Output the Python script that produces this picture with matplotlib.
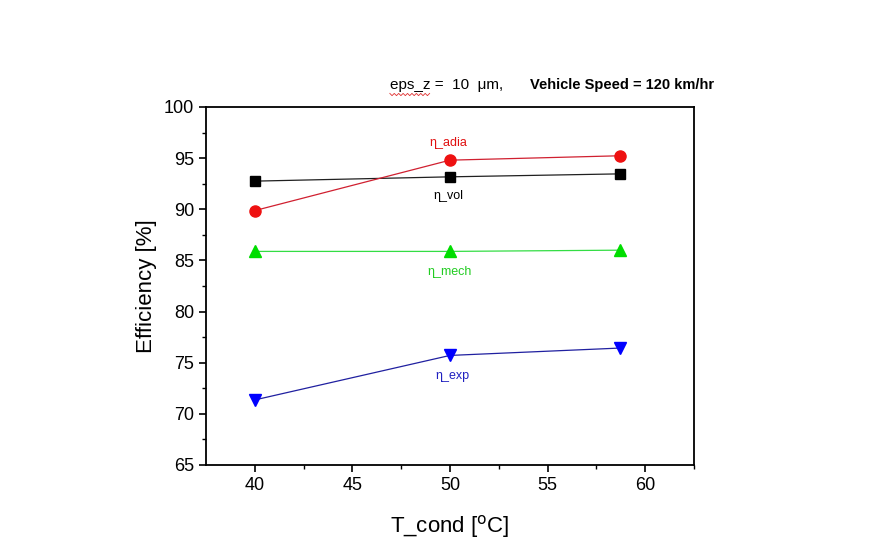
import matplotlib
matplotlib.use("Agg")
import matplotlib.pyplot as plt
from matplotlib.lines import Line2D

plt.rcParams['font.family'] = ['Liberation Sans', 'DejaVu Sans']

# condensing temperature [C]
t_cond = [40, 50, 58.7]

# efficiencies [%]
eta_adia = [89.87, 94.8, 95.23]
eta_vol = [92.75, 93.17, 93.46]
eta_mech = [85.88, 85.88, 86.0]
eta_exp = [71.36, 75.71, 76.43]

fig = plt.figure(figsize=(8.84, 5.56), dpi=100)
ax = fig.add_axes([0.233, 0.1637, 0.552, 0.6439])

ax.plot(t_cond, eta_vol, color='#202020', lw=0.9, marker='s', ms=7, mfc='black', mec='black')
ax.plot(t_cond, eta_adia, color='#d02030', lw=0.9, marker='o', ms=8, mfc='#ee1111', mec='#ee1111')
ax.plot(t_cond, eta_mech, color='#33dd44', lw=0.9, marker='^', ms=9, mfc='#00dd00', mec='#00dd00')
ax.plot(t_cond, eta_exp, color='#2020a0', lw=0.9, marker='v', ms=9, mfc='#0000ff', mec='#0000ff')

# curve labels
ax.text(49.9, 96.45, 'η_adia', color='#e01010', fontsize=9, ha='center', va='center')
ax.text(49.9, 91.25, 'η_vol', color='black', fontsize=9, ha='center', va='center')
ax.text(50.0, 83.85, 'η_mech', color='#22cc22', fontsize=9, ha='center', va='center')
ax.text(50.1, 73.7, 'η_exp', color='#2020c0', fontsize=9, ha='center', va='center')

ax.set_xlim(37.5, 62.5)
ax.set_ylim(65, 100)
ax.set_xticks([40, 45, 50, 55, 60])
ax.set_xticks([42.5, 47.5, 52.5, 57.5, 62.5], minor=True)
ax.set_yticks([65, 70, 75, 80, 85, 90, 95, 100])
ax.set_yticks([67.5, 72.5, 77.5, 82.5, 87.5, 92.5, 97.5], minor=True)
ax.tick_params(which='major', direction='out', length=5, width=1.2, labelsize=13)
ax.tick_params(which='minor', direction='out', length=3, width=1.0)
for s in ax.spines.values():
    s.set_linewidth(1.3)

ax.set_xlabel('T_cond [$^{\\mathrm{o}}$C]', fontsize=16, labelpad=14)
ax.set_ylabel('Efficiency [%]', fontsize=16, labelpad=5)

fig.text(0.441, 0.848, 'eps_z =  10  μm,', fontsize=11, ha='left', va='center')
fig.text(0.6, 0.848, 'Vehicle Speed = 120 km/hr', fontsize=10.5, fontweight='bold',
         ha='left', va='center')

# spell-check squiggle under "eps_z"
sx = [0.441 + i * 0.0025 for i in range(19)]
sy = [0.832 if i % 2 == 0 else 0.828 for i in range(19)]
fig.add_artist(Line2D(sx, sy, transform=fig.transFigure, color='#e03030', lw=0.6))

fig.savefig('out.png', dpi=100)
